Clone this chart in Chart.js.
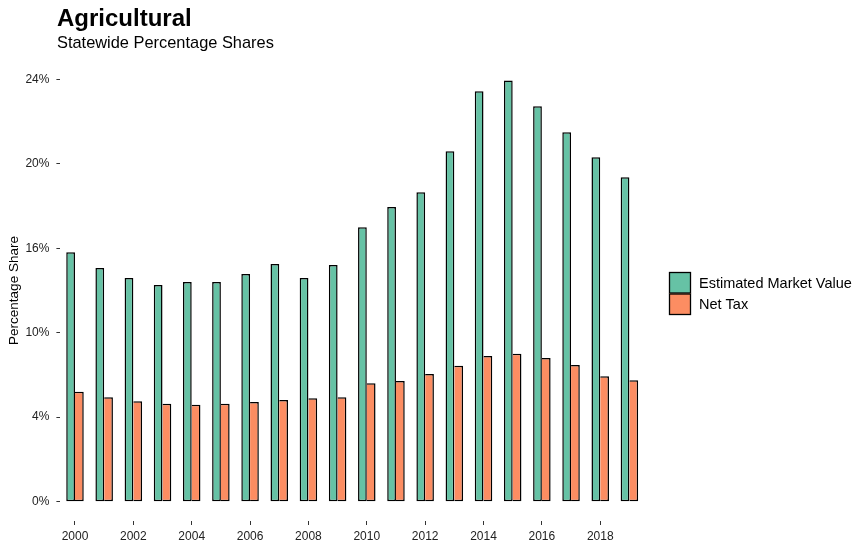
<!DOCTYPE html>
<html>
<head>
<meta charset="utf-8">
<script src="https://cdn.jsdelivr.net/npm/chart.js@4.4.1/dist/chart.umd.min.js"></script>
<style>
  html, body { margin: 0; padding: 0; background: #fff; }
  #wrap { width: 867px; height: 550px; position: relative; }
</style>
</head>
<body>
<div id="wrap"><canvas id="chart"></canvas></div>
<script>
// valores
const years = ['2000','2001','2002','2003','2004','2005','2006','2007','2008','2009',
               '2010','2011','2012','2013','2014','2015','2016','2017','2018','2019'];
const marketValue = [14.18, 13.28, 12.71, 12.31, 12.48, 12.48, 12.94, 13.50, 12.71, 13.45,
                     15.60, 16.74, 17.59, 19.91, 23.32, 23.94, 22.47, 20.99, 19.57, 18.44];
const netTax = [6.24, 5.94, 5.71, 5.56, 5.50, 5.56, 5.66, 5.77, 5.88, 5.94,
                6.73, 6.85, 7.25, 7.72, 8.28, 8.40, 8.17, 7.77, 7.13, 6.90];
const yTickValues = [0, 4.8, 9.6, 14.4, 19.2, 24];
const yTickLabels = ['0%', '4%', '10%', '16%', '20%', '24%'];
const seriesNames = ['Estimated Market Value', 'Net Tax'];
const seriesColors = ['#66C2A5', '#FC8D62'];

const FONT = '"Liberation Sans", Arial, sans-serif';

// título, subtítulo e legenda desenhados à mão
const decorPlugin = {
  id: 'decor',
  afterDraw(chart) {
    const ctx = chart.ctx;
    ctx.save();
    ctx.fillStyle = '#000';
    ctx.textBaseline = 'alphabetic';
    ctx.textAlign = 'left';
    ctx.font = 'bold 24px ' + FONT;
    ctx.fillText('Agricultural', 57, 26);
    ctx.font = '16.4px ' + FONT;
    ctx.fillText('Statewide Percentage Shares', 57, 48);

    // legenda
    const boxX = 669, boxY = 272, boxW = 22, boxH = 21.5;
    ctx.font = '14.5px ' + FONT;
    ctx.textBaseline = 'middle';
    seriesNames.forEach((name, i) => {
      const y = boxY + i * boxH;
      ctx.fillStyle = seriesColors[i];
      ctx.fillRect(boxX, y, boxW, boxH);
      ctx.strokeStyle = '#000';
      ctx.lineWidth = 1.3;
      ctx.strokeRect(boxX + 0.5, y + 0.5, boxW - 1, boxH - 1);
      ctx.fillStyle = '#000';
      ctx.fillText(name, 699, y + boxH / 2 + 1);
    });
    ctx.restore();
  }
};

new Chart(document.getElementById('chart'), {
  type: 'bar',
  data: {
    labels: years,
    datasets: [
      {
        label: seriesNames[0],
        data: marketValue,
        backgroundColor: seriesColors[0],
        borderColor: '#000',
        borderWidth: 1.5,
        borderSkipped: false,
        barPercentage: 1,
        categoryPercentage: 0.6
      },
      {
        label: seriesNames[1],
        data: netTax,
        backgroundColor: seriesColors[1],
        borderColor: '#000',
        borderWidth: { left: 0, top: 1.5, bottom: 1.5, right: 1.5 },
        borderSkipped: false,
        barPercentage: 1,
        categoryPercentage: 0.6
      }
    ]
  },
  options: {
    responsive: true,
    maintainAspectRatio: false,
    animation: false,
    layout: { padding: { top: 60, right: 223, bottom: 0, left: 0 } },
    plugins: {
      legend: { display: false },
      tooltip: { enabled: false }
    },
    scales: {
      x: {
        type: 'category',
        offset: true,
        grid: { drawOnChartArea: false, offset: false, drawTicks: true, tickLength: 4, color: '#333' },
        border: { display: false },
        ticks: {
          autoSkip: false,
          maxRotation: 0,
          padding: 4,
          color: '#222',
          font: { family: FONT, size: 12 },
          callback: (v, i) => (i % 2 === 0 ? years[i] : null)
        },
        afterFit: s => { s.height = 29; }
      },
      y: {
        min: -1.1,
        max: 25.1,
        grid: { drawOnChartArea: false, drawTicks: true, tickLength: 4, color: '#333' },
        border: { display: false },
        afterBuildTicks: s => { s.ticks = yTickValues.map(v => ({ value: v })); },
        ticks: {
          padding: 7,
          color: '#222',
          font: { family: FONT, size: 12 },
          callback: (v, i) => yTickLabels[i]
        },
        title: {
          display: true,
          text: 'Percentage Share',
          color: '#000',
          font: { family: FONT, size: 13.5 },
          padding: { top: 6, bottom: 0 }
        },
        afterFit: s => { s.width = 60.4; }
      }
    }
  },
  plugins: [decorPlugin]
});
</script>
</body>
</html>
